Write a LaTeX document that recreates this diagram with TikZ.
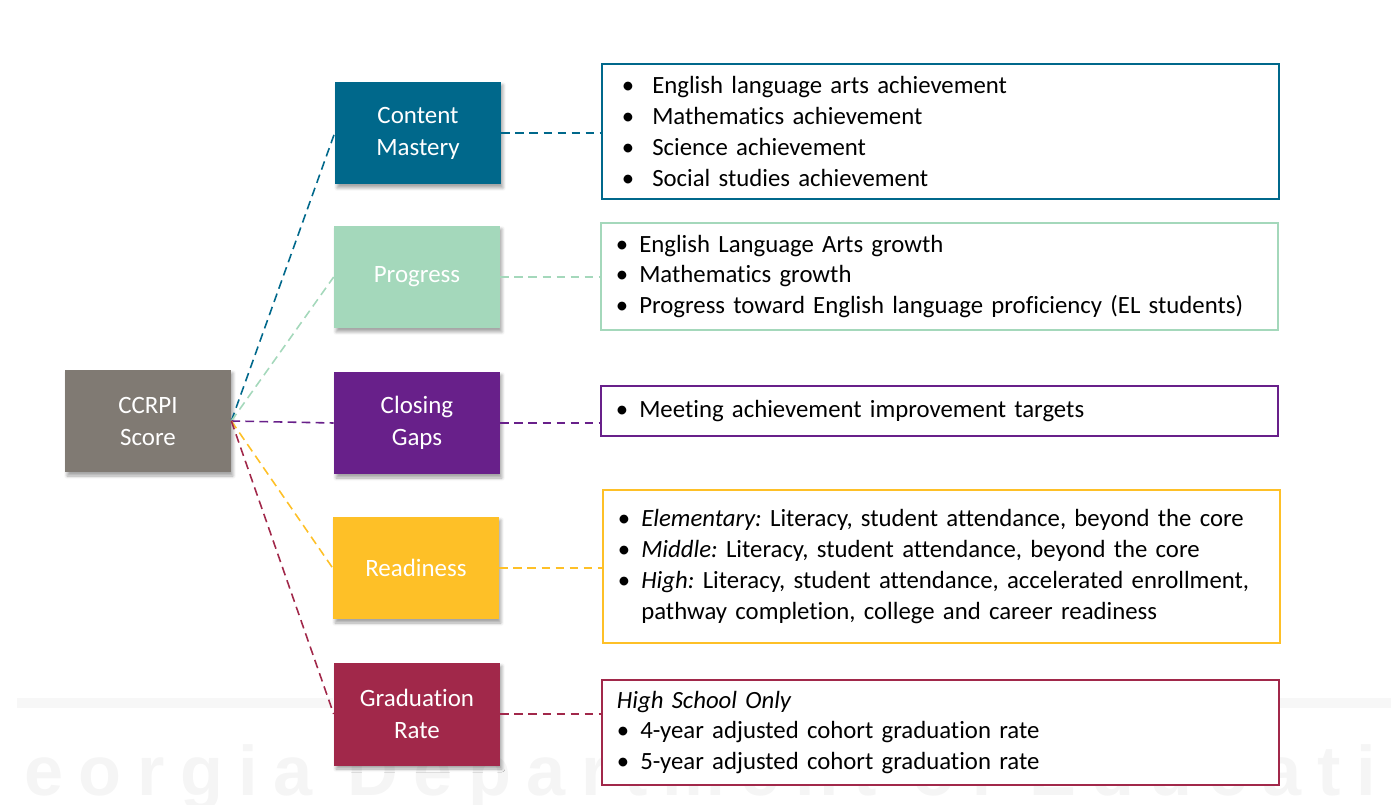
\documentclass[tikz,border=0pt]{standalone}
\usepackage{fontspec}
\setmainfont{Carlito}[Ligatures=NoCommon]
\newfontfamily\filigrane{Liberation Sans}[LetterSpace=22]
\usetikzlibrary{shadows.blur}
\frenchspacing

\definecolor{gris}{RGB}{128,122,115}
\definecolor{bleu}{RGB}{0,104,139}
\definecolor{vert}{RGB}{164,216,187}
\definecolor{violet}{RGB}{104,32,138}
\definecolor{jaune}{RGB}{254,192,39}
\definecolor{bordeaux}{RGB}{161,40,74}

\newcommand{\puce}[1][0.22cm]{\textbullet\hspace{#1}}
\newcommand{\retrait}{\phantom{\textbullet}\hspace{0.22cm}}

\tikzset{
  bloc/.style={minimum width=3.32cm, minimum height=2.06cm, inner sep=0pt,
    align=center, text=white, font=\fontsize{14.2}{18.2}\selectfont,
    blur shadow={shadow xshift=0.04cm, shadow yshift=-0.07cm,
      shadow opacity=35, shadow blur steps=6, shadow blur radius=0.06cm}},
  liste/.style={draw, fill=white, line width=1.1pt, anchor=west,
    minimum width=13.54cm, text width=12.94cm, inner xsep=0.3cm,
    align=left, font=\fontsize{14.1}{17.6}\selectfont},
  lien/.style={dash pattern=on 5pt off 3pt, line width=0.9pt}
}

\begin{document}
\begin{tikzpicture}[x=0.02cm, y=-0.02cm]
  % Cadre
  \useasboundingbox (0,0) rectangle (1391,804);
  % Filigrane
  \begin{scope}
    \clip (17,0) rectangle (1391,804);
    \fill[black!3] (17,698) rectangle (333,708);
    \fill[black!3] (1280,698) rectangle (1391,708);
    \node[anchor=base west, inner sep=0pt, text=black!4,
      font=\filigrane\bfseries\fontsize{40}{40}\selectfont] (fil) at (-46,795)
      {Georgia Department of Education};
  \end{scope}
  % Score CCRPI
  \node[bloc, fill=gris] (score) at (148,421) {CCRPI\\Score};
  % Composantes
  \node[bloc, fill=bleu] (maitrise) at (418,133) {Content\\Mastery};
  \node[bloc, fill=vert] (progres) at (417,277) {Progress};
  \node[bloc, fill=violet] (ecarts) at (417,423) {Closing\\Gaps};
  \node[bloc, fill=jaune] (prepa) at (416,568) {Readiness};
  \node[bloc, fill=bordeaux] (diplome) at (417,714) {Graduation\\Rate};
  % Indicateurs
  \node[liste, draw=bleu, minimum height=2.7cm, inner xsep=0.4cm, text width=12.74cm] (d1) at (601,131.5)
    {\puce[0.36cm]English language arts achievement\\
     \puce[0.36cm]Mathematics achievement\\
     \puce[0.36cm]Science achievement\\
     \puce[0.36cm]Social studies achievement};
  \node[liste, draw=vert, minimum height=2.14cm] (d2) at (600,276.5)
    {\puce English Language Arts growth\\
     \puce Mathematics growth\\
     \puce Progress toward English language proficiency (EL students)};
  \node[liste, draw=violet, minimum height=1cm] (d3) at (600,411)
    {\puce Meeting achievement improvement targets};
  \node[liste, draw=jaune, minimum height=3.06cm] (d4) at (602,566.5)
    {\puce\textit{Elementary:} Literacy, student attendance, beyond the core\\
     \puce\textit{Middle:} Literacy, student attendance, beyond the core\\
     \puce\textit{High:} Literacy, student attendance, accelerated enrollment,\\
     \retrait pathway completion, college and career readiness};
  \node[liste, draw=bordeaux, minimum height=2.1cm] (d5) at (601,732.5)
    {\textit{High School Only}\\
     \puce 4-year adjusted cohort graduation rate\\
     \puce 5-year adjusted cohort graduation rate};
  % Liens gauche
  \draw[lien, bleu] (score.east) -- (maitrise.west);
  \draw[lien, vert] (score.east) -- (progres.west);
  \draw[lien, violet] (score.east) -- (ecarts.west);
  \draw[lien, jaune] (score.east) -- (prepa.west);
  \draw[lien, bordeaux] (score.east) -- (diplome.west);
  % Liens droite
  \draw[lien, bleu] (maitrise.east) -- (maitrise.east -| d1.west);
  \draw[lien, vert] (progres.east) -- (progres.east -| d2.west);
  \draw[lien, violet] (ecarts.east) -- (ecarts.east -| d3.west);
  \draw[lien, jaune] (prepa.east) -- (prepa.east -| d4.west);
  \draw[lien, bordeaux] (diplome.east) -- (diplome.east -| d5.west);
\end{tikzpicture}
\end{document}
